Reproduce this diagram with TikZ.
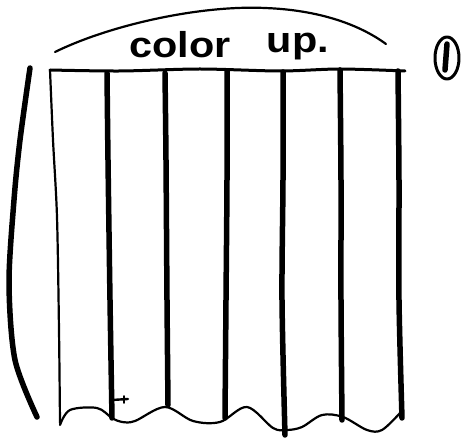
\documentclass[tikz,border=0pt]{standalone}
\usepackage{fontspec}
\setmainfont{Liberation Sans}
\begin{document}
\begin{tikzpicture}[x=1pt,y=-1pt,
  ink/.style={line cap=round,line join=round,black},
  thickink/.style={ink,line width=5.5pt},
  midink/.style={ink,line width=3pt},
  thinink/.style={ink,line width=2.2pt},
  hand/.style={font=\fontsize{36}{36}\selectfont\bfseries,inner sep=0pt,xscale=1.15,transform shape}]
\useasboundingbox (0,0) rectangle (467,438);
% dome arc over the top
\draw[thinink] (55,52) .. controls (110,25) and (200,5) .. (265,8) .. controls (320,10) and (360,25) .. (386,44);
% label
\node[hand] (t1) at (180,45) {color};
\node[hand] (t2) at (298,47) {up.};
% circled one
\draw[midink] (447,58) ellipse (12 and 21);
\draw[ink,line width=5.5pt] (447,44) -- (445,70);
% top edge
\draw[midink] plot[smooth] coordinates {(50,70) (120,71) (200,69) (280,71) (340,69) (405,71)};
% left bracket
\draw[thickink] plot[smooth] coordinates {(30,68) (20,140) (14,200) (9,283) (15,360) (37,417)};
% left border
\draw[thinink] plot[smooth] coordinates {(50,70) (53,140) (57,217) (59,330) (60,423)};
% vertical strips
\draw[thickink] plot[smooth] coordinates {(107,73) (108,160) (110,300) (112,418)};
\draw[thickink] plot[smooth] coordinates {(165,73) (166,160) (167,300) (168,405)};
\draw[thickink] plot[smooth] coordinates {(227,71) (227,180) (226,300) (225,418)};
\draw[thickink] plot[smooth] coordinates {(283,72) (283,180) (282,300) (285,435)};
\draw[thickink] plot[smooth] coordinates {(340,70) (341,180) (341,300) (342,420)};
\draw[thickink] plot[smooth] coordinates {(398,71) (399,180) (399,300) (402,418)};
% wavy bottom edge
\draw[thinink] plot[smooth,tension=0.55] coordinates {(60,425) (70,410) (97,408) (112,418) (122,422) (135,421) (165,407) (193,421) (220,422) (247,407) (273,428) (287,430) (302,427) (322,415) (343,417) (367,430) (382,430) (400,413)};
% small mark
\draw[ink,line width=2.4pt] (112,400) -- (128,399);
\draw[ink,line width=1.8pt] (124,396) -- (124,403);
\end{tikzpicture}
\end{document}
